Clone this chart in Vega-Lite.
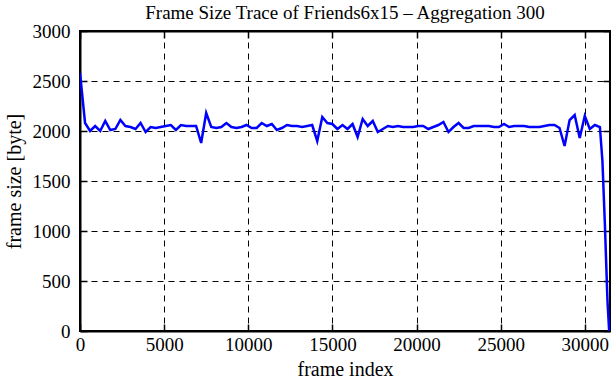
{
  "$schema": "https://vega.github.io/schema/vega-lite/v6.json",
  "width": 530,
  "height": 300,
  "autosize": {"type": "none"},
  "padding": {"left": 80, "top": 31, "right": 1, "bottom": 49},
  "background": "white",
  "title": {"text": "Frame Size Trace of Friends6x15 – Aggregation 300", "font": "Liberation Serif", "fontSize": 19, "fontWeight": "normal", "color": "black", "offset": -1},
  "config": {
    "view": {"stroke": "black", "strokeWidth": 2},
    "axis": {"labelFont": "Liberation Serif", "titleFont": "Liberation Serif", "labelFontSize": 19, "titleFontSize": 20, "titleFontWeight": "normal", "labelColor": "black", "titleColor": "black", "domainColor": "black", "domainWidth": 2, "tickColor": "black", "tickWidth": 1.5, "gridColor": "black", "gridDash": [6, 5], "gridWidth": 1, "gridOpacity": 1}
  },
  "data": {"values": [
    {"frame": 0, "size": 2580}, {"frame": 300, "size": 2080}, {"frame": 600, "size": 2000}, {"frame": 900, "size": 2050}, {"frame": 1200, "size": 2000},
    {"frame": 1500, "size": 2100}, {"frame": 1800, "size": 2010}, {"frame": 2100, "size": 2020}, {"frame": 2400, "size": 2110}, {"frame": 2700, "size": 2050},
    {"frame": 3000, "size": 2040}, {"frame": 3300, "size": 2020}, {"frame": 3600, "size": 2080}, {"frame": 3900, "size": 1990}, {"frame": 4200, "size": 2040},
    {"frame": 4500, "size": 2030}, {"frame": 4800, "size": 2040}, {"frame": 5100, "size": 2050}, {"frame": 5400, "size": 2060}, {"frame": 5700, "size": 2010},
    {"frame": 6000, "size": 2060}, {"frame": 6300, "size": 2050}, {"frame": 6600, "size": 2050}, {"frame": 6900, "size": 2050}, {"frame": 7200, "size": 1880},
    {"frame": 7500, "size": 2180}, {"frame": 7800, "size": 2040}, {"frame": 8100, "size": 2030}, {"frame": 8400, "size": 2040}, {"frame": 8700, "size": 2080},
    {"frame": 9000, "size": 2040}, {"frame": 9300, "size": 2030}, {"frame": 9600, "size": 2040}, {"frame": 9900, "size": 2060}, {"frame": 10200, "size": 2030},
    {"frame": 10500, "size": 2030}, {"frame": 10800, "size": 2080}, {"frame": 11100, "size": 2050}, {"frame": 11400, "size": 2070}, {"frame": 11700, "size": 2010},
    {"frame": 12000, "size": 2030}, {"frame": 12300, "size": 2060}, {"frame": 12600, "size": 2050}, {"frame": 12900, "size": 2050}, {"frame": 13200, "size": 2040},
    {"frame": 13500, "size": 2050}, {"frame": 13800, "size": 2060}, {"frame": 14100, "size": 1900}, {"frame": 14400, "size": 2140}, {"frame": 14700, "size": 2080},
    {"frame": 15000, "size": 2070}, {"frame": 15300, "size": 2020}, {"frame": 15600, "size": 2060}, {"frame": 15900, "size": 2020}, {"frame": 16200, "size": 2070},
    {"frame": 16500, "size": 1940}, {"frame": 16800, "size": 2120}, {"frame": 17100, "size": 2050}, {"frame": 17400, "size": 2100}, {"frame": 17700, "size": 1990},
    {"frame": 18000, "size": 2020}, {"frame": 18300, "size": 2050}, {"frame": 18600, "size": 2040}, {"frame": 18900, "size": 2050}, {"frame": 19200, "size": 2040},
    {"frame": 19500, "size": 2040}, {"frame": 19800, "size": 2040}, {"frame": 20100, "size": 2050}, {"frame": 20400, "size": 2050}, {"frame": 20700, "size": 2020},
    {"frame": 21000, "size": 2040}, {"frame": 21300, "size": 2060}, {"frame": 21600, "size": 2090}, {"frame": 21900, "size": 1990}, {"frame": 22200, "size": 2040},
    {"frame": 22500, "size": 2080}, {"frame": 22800, "size": 2030}, {"frame": 23100, "size": 2030}, {"frame": 23400, "size": 2050}, {"frame": 23700, "size": 2050},
    {"frame": 24000, "size": 2050}, {"frame": 24300, "size": 2050}, {"frame": 24600, "size": 2040}, {"frame": 24900, "size": 2040}, {"frame": 25200, "size": 2070},
    {"frame": 25500, "size": 2040}, {"frame": 25800, "size": 2050}, {"frame": 26100, "size": 2050}, {"frame": 26400, "size": 2050}, {"frame": 26700, "size": 2040},
    {"frame": 27000, "size": 2040}, {"frame": 27300, "size": 2040}, {"frame": 27600, "size": 2050}, {"frame": 27900, "size": 2060}, {"frame": 28200, "size": 2060},
    {"frame": 28500, "size": 2030}, {"frame": 28800, "size": 1850}, {"frame": 29100, "size": 2110}, {"frame": 29400, "size": 2160}, {"frame": 29700, "size": 1930},
    {"frame": 30000, "size": 2150}, {"frame": 30300, "size": 2020}, {"frame": 30600, "size": 2060}, {"frame": 30900, "size": 2040}, {"frame": 31050, "size": 1700},
    {"frame": 31200, "size": 1050}, {"frame": 31350, "size": 300}, {"frame": 31450, "size": 0}
  ]},
  "layer": [
    {
      "mark": {"type": "line", "color": "#0000ff", "strokeWidth": 2.5, "clip": true},
      "encoding": {
        "x": {"field": "frame", "type": "quantitative", "scale": {"domain": [0, 31500], "nice": false, "zero": false},
          "axis": {"title": "frame index", "values": [0, 5000, 10000, 15000, 20000, 25000, 30000], "format": "d", "grid": true, "tickSize": -7, "labelPadding": 11, "titlePadding": 5, "labelFlush": false}},
        "y": {"field": "size", "type": "quantitative", "scale": {"domain": [0, 3000], "nice": false},
          "axis": {"title": "frame size [byte]", "values": [0, 500, 1000, 1500, 2000, 2500, 3000], "format": "d", "grid": true, "tickSize": -7, "labelPadding": 17, "titlePadding": 8, "labelFlush": false}}
      }
    },
    {
      "mark": {"type": "line", "opacity": 0},
      "encoding": {
        "x": {"field": "frame", "type": "quantitative", "axis": {"orient": "top", "title": null, "labels": false, "values": [0, 5000, 10000, 15000, 20000, 25000, 30000], "tickSize": -7, "grid": false, "maxExtent": 0, "minExtent": 0}},
        "y": {"field": "size", "type": "quantitative", "axis": {"orient": "right", "title": null, "labels": false, "values": [0, 500, 1000, 1500, 2000, 2500, 3000], "tickSize": -7, "grid": false, "maxExtent": 0, "minExtent": 0}}
      }
    }
  ],
  "resolve": {"axis": {"x": "independent", "y": "independent"}}
}
